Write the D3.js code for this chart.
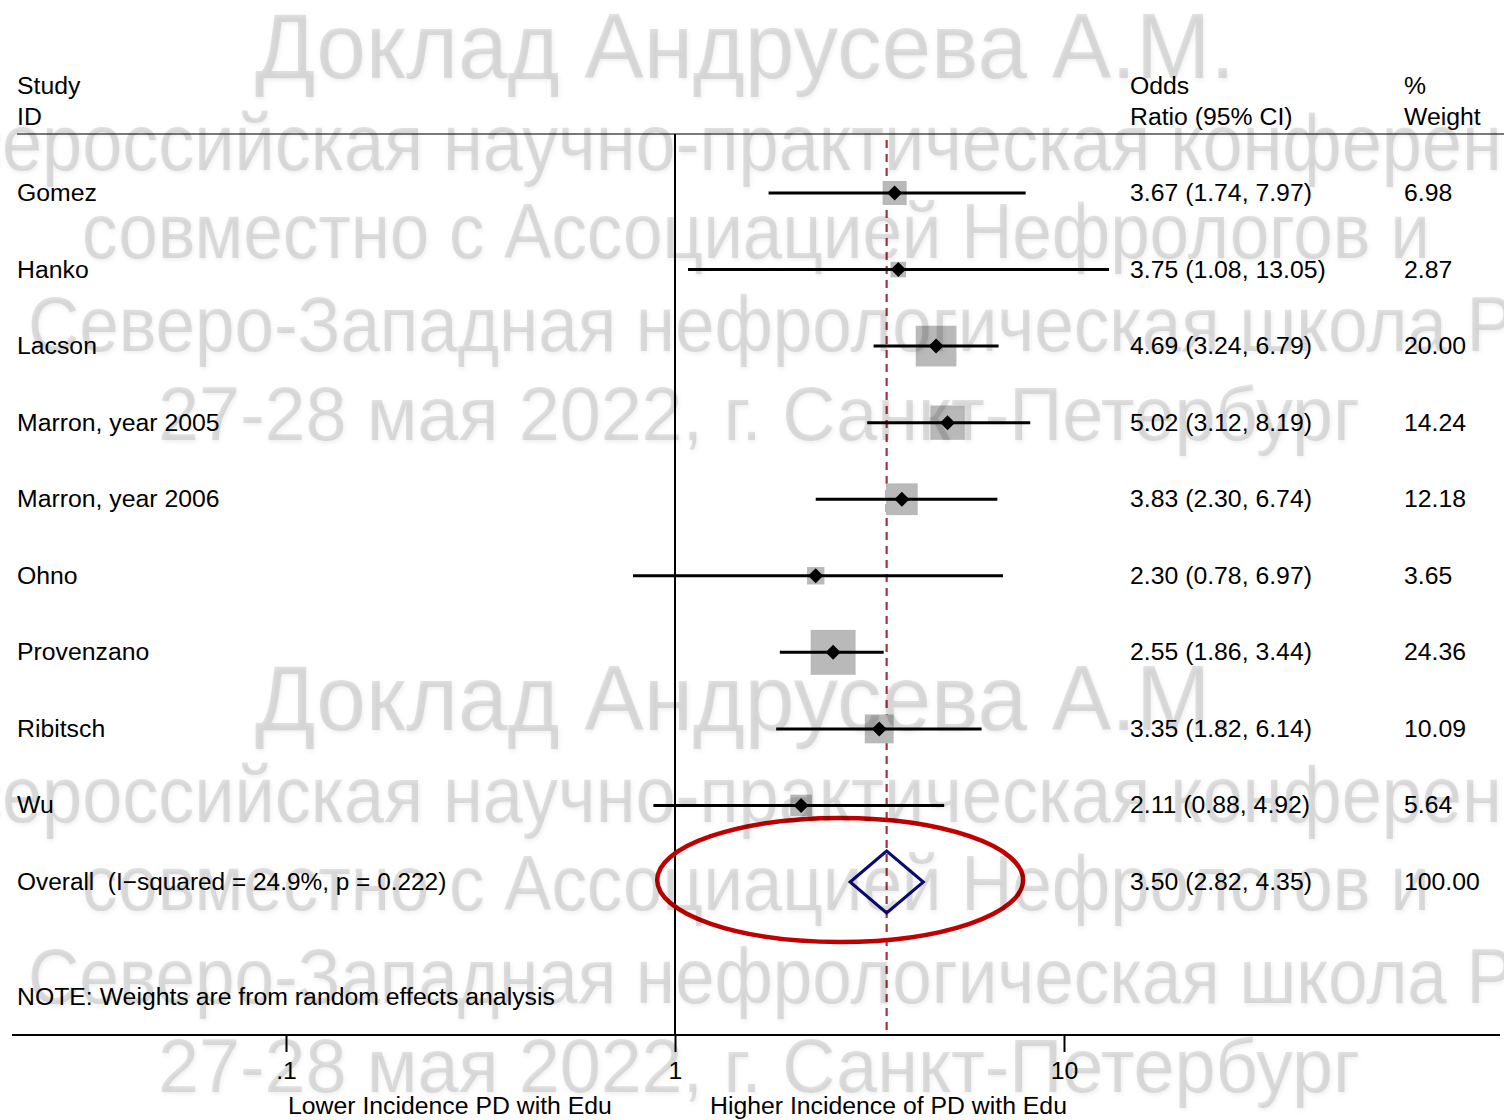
<!DOCTYPE html>
<html>
<head>
<meta charset="utf-8">
<script src="https://cdn.jsdelivr.net/npm/d3@7/dist/d3.min.js"></script>
<style>
  html, body { margin: 0; padding: 0; background: #fff; }
  svg { display: block; }
</style>
</head>
<body>
<svg id="chart" width="1504" height="1120"></svg>
<script>
// ---- data ----
const studies   = ["Gomez", "Hanko", "Lacson", "Marron, year 2005", "Marron, year 2006", "Ohno", "Provenzano", "Ribitsch", "Wu"];
const oddsRatio = [3.67, 3.75, 4.69, 5.02, 3.83, 2.30, 2.55, 3.35, 2.11];
const ciLower   = [1.74, 1.08, 3.24, 3.12, 2.30, 0.78, 1.86, 1.82, 0.88];
const ciUpper   = [7.97, 13.05, 6.79, 8.19, 6.74, 6.97, 3.44, 6.14, 4.92];
const weights   = [6.98, 2.87, 20.00, 14.24, 12.18, 3.65, 24.36, 10.09, 5.64];

const overallLabel = "Overall  (I\u2212squared = 24.9%, p = 0.222)";
const overallOR    = 3.50;
const overallLower = 2.82;
const overallUpper = 4.35;
const overallWeight = 100.00;

const tickValues = [0.1, 1, 10];
const tickLabels = [".1", "1", "10"];

const noteText    = "NOTE: Weights are from random effects analysis";
const lowerTitle  = "Lower Incidence PD with Edu";
const higherTitle = "Higher Incidence of PD with Edu";

const watermarkLines = [
  "Доклад Андрусева А.М.",
  "Всероссийская научно-практическая конференция",
  "совместно с Ассоциацией Нефрологов и",
  "Северо-Западная нефрологическая школа Р",
  "27-28 мая 2022, г. Санкт-Петербург"
];

// ---- setup ----
const svg = d3.select("#chart");
const FONT = "'Liberation Sans', Arial, sans-serif";
const FS = 23.5;
const STRETCH = 1.055;

const x = d3.scaleLog().domain([0.1, 10]).range([286, 1064]);
const rowIds = studies.concat(["Overall"]);
const y = d3.scalePoint().domain(rowIds).range([193, 882]);

const labelX = 17, orX = 1130, wX = 1404;
const headerY = 134, axisY = 1035;

const fmt2 = d3.format(".2f");

function stretchText(sel) {
  sel.each(function () {
    const len = this.getComputedTextLength();
    d3.select(this).attr("textLength", len * STRETCH).attr("lengthAdjust", "spacingAndGlyphs");
  });
  return sel;
}

function addText(g, str, tx, ty, anchor) {
  const t = g.append("text")
    .attr("x", tx).attr("y", ty)
    .attr("font-family", FONT).attr("font-size", FS)
    .attr("fill", "#000")
    .attr("text-anchor", anchor || "start")
    .text(str);
  stretchText(t);
  return t;
}

const chart = svg.append("g");

// header
addText(chart, "Study", labelX, 94);
addText(chart, "ID", labelX, 125);
addText(chart, "Odds", orX, 94);
addText(chart, "Ratio (95% CI)", orX, 125);
addText(chart, "%", wX, 94);
addText(chart, "Weight", wX, 125);

chart.append("line")
  .attr("x1", 17).attr("x2", 1504).attr("y1", headerY).attr("y2", headerY)
  .attr("stroke", "#7a7a7a").attr("stroke-width", 2);

// null line at OR = 1
chart.append("line")
  .attr("x1", x(1)).attr("x2", x(1)).attr("y1", headerY).attr("y2", axisY)
  .attr("stroke", "#000").attr("stroke-width", 2);

// pooled estimate reference line
chart.append("line")
  .attr("x1", x(overallOR)).attr("x2", x(overallOR)).attr("y1", 140).attr("y2", axisY)
  .attr("stroke", "#a8323e").attr("stroke-width", 2.2)
  .attr("stroke-dasharray", "8,6");

// study rows
const rows = studies.map((s, i) => ({
  id: s, or: oddsRatio[i], lo: ciLower[i], hi: ciUpper[i], w: weights[i]
}));

const boxK = 9.1;
const rowG = chart.selectAll("g.row").data(rows).enter().append("g").attr("class", "row");

rowG.append("rect")
  .attr("x", d => x(d.or) - boxK * Math.sqrt(d.w) / 2)
  .attr("y", d => y(d.id) - boxK * Math.sqrt(d.w) / 2)
  .attr("width", d => boxK * Math.sqrt(d.w))
  .attr("height", d => boxK * Math.sqrt(d.w))
  .attr("fill", "#b9b9b9");

rowG.append("line")
  .attr("x1", d => x(d.lo)).attr("x2", d => x(d.hi))
  .attr("y1", d => y(d.id)).attr("y2", d => y(d.id))
  .attr("stroke", "#000").attr("stroke-width", 3);

const dm = 7.5;
rowG.append("path")
  .attr("d", d => {
    const cx = x(d.or), cy = y(d.id);
    return `M${cx - dm},${cy}L${cx},${cy - dm}L${cx + dm},${cy}L${cx},${cy + dm}Z`;
  })
  .attr("fill", "#000");

rows.forEach(d => {
  const cy = y(d.id) + 8;
  addText(chart, d.id, labelX, cy);
  addText(chart, `${fmt2(d.or)} (${fmt2(d.lo)}, ${fmt2(d.hi)})`, orX, cy);
  addText(chart, fmt2(d.w), wX, cy);
});

// overall diamond
const oy = y("Overall");
const dh = 31;
chart.append("path")
  .attr("d", `M${x(overallLower)},${oy}L${x(overallOR)},${oy - dh}L${x(overallUpper)},${oy}L${x(overallOR)},${oy + dh}Z`)
  .attr("fill", "none").attr("stroke", "#0a0a78").attr("stroke-width", 3);

addText(chart, overallLabel, labelX, oy + 8).attr("xml:space", "preserve").style("white-space", "pre");
addText(chart, `${fmt2(overallOR)} (${fmt2(overallLower)}, ${fmt2(overallUpper)})`, orX, oy + 8);
addText(chart, fmt2(overallWeight), wX, oy + 8);

// highlight ring around the pooled result
const ringL = x(0.9), ringR = x(7.85);
chart.append("ellipse")
  .attr("cx", (ringL + ringR) / 2).attr("cy", oy - 2)
  .attr("rx", (ringR - ringL) / 2).attr("ry", 62)
  .attr("fill", "none").attr("stroke", "#c00000").attr("stroke-width", 4.5);

// note
addText(chart, noteText, labelX, 1005);

// x axis
chart.append("line")
  .attr("x1", 12).attr("x2", 1500).attr("y1", axisY).attr("y2", axisY)
  .attr("stroke", "#000").attr("stroke-width", 2);

const axisG = chart.append("g").attr("transform", `translate(0,${axisY})`)
  .call(d3.axisBottom(x).tickValues(tickValues).tickFormat((d, i) => tickLabels[i]).tickSize(17).tickPadding(10));
axisG.select(".domain").remove();
axisG.selectAll(".tick line").attr("stroke", "#000").attr("stroke-width", 2);
axisG.selectAll(".tick text")
  .attr("font-family", FONT).attr("font-size", FS).attr("fill", "#000")
  .attr("dy", "0.71em");
stretchText(axisG.selectAll(".tick text"));

addText(chart, lowerTitle, 288, 1114);
addText(chart, higherTitle, 710, 1114);

// ---- watermark overlay ----
const defs = svg.append("defs");
const f = defs.append("filter").attr("id", "wmShadow")
  .attr("x", "-5%").attr("y", "-20%").attr("width", "110%").attr("height", "150%");
f.append("feDropShadow").attr("dx", 1).attr("dy", 2).attr("stdDeviation", 2)
  .attr("flood-color", "#000").attr("flood-opacity", 0.6);

// line placement: which substring spans which horizontal range
const wmLayout = [
  { line: 0, size: 92, from: 0, to: watermarkLines[0].length, x0: 255, x1: 1235, base: 78 },
  { line: 1, size: 80, from: 2, to: 42, x0: 2, x1: 1502, base: 170 },
  { line: 2, size: 78, from: 0, to: watermarkLines[2].length, x0: 82, x1: 1430, base: 258 },
  { line: 3, size: 78, from: 0, to: 37, x0: 28, x1: 1447, base: 351 },
  { line: 4, size: 76, from: 0, to: watermarkLines[4].length, x0: 158, x1: 1360, base: 440 }
];
const blockOffsets = [0, 652];

const wm = svg.append("g").attr("filter", "url(#wmShadow)").style("pointer-events", "none");
blockOffsets.forEach(off => {
  wmLayout.forEach(L => {
    const t = wm.append("text")
      .attr("x", 0).attr("y", 0)
      .attr("font-family", FONT).attr("font-size", L.size)
      .attr("fill", "rgba(0,0,0,0.11)")
      .text(watermarkLines[L.line]);
    const node = t.node();
    const s0 = L.from > 0 ? node.getSubStringLength(0, L.from) : 0;
    const w = node.getSubStringLength(L.from, L.to - L.from);
    const sx = (L.x1 - L.x0) / w;
    t.attr("transform", `translate(${L.x0 - s0 * sx},${L.base + off}) scale(${sx},1)`);
  });
});
</script>
</body>
</html>
